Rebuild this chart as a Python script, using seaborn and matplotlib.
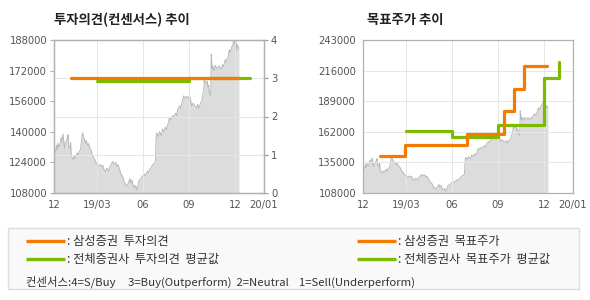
import matplotlib
matplotlib.use("Agg")
import matplotlib.pyplot as plt
import seaborn as sns
import pandas as pd
from matplotlib.patches import Rectangle
from matplotlib.lines import Line2D

sns.set_style("white")
plt.rcParams['font.family'] = ['Noto Sans CJK KR', 'DejaVu Sans']

# ---------------- data ----------------
price_dates = [
    "2018-12-06", "2018-12-07", "2018-12-10", "2018-12-11", "2018-12-12", "2018-12-14", "2018-12-17",
    "2018-12-18", "2018-12-20", "2018-12-21", "2018-12-24", "2018-12-26", "2018-12-27", "2018-12-28",
    "2019-01-02", "2019-01-03", "2019-01-04", "2019-01-07", "2019-01-08", "2019-01-09", "2019-01-10",
    "2019-01-14", "2019-01-15", "2019-01-17", "2019-01-21", "2019-01-23", "2019-01-25", "2019-01-28",
    "2019-01-30", "2019-01-31", "2019-02-01", "2019-02-04", "2019-02-07", "2019-02-08", "2019-02-11",
    "2019-02-13", "2019-02-15", "2019-02-18", "2019-02-20", "2019-02-22", "2019-02-25", "2019-02-27",
    "2019-03-01", "2019-03-05", "2019-03-07", "2019-03-11", "2019-03-13", "2019-03-15", "2019-03-19",
    "2019-03-21", "2019-03-25", "2019-03-27", "2019-03-29", "2019-04-02", "2019-04-04", "2019-04-08",
    "2019-04-10", "2019-04-12", "2019-04-16", "2019-04-18", "2019-04-22", "2019-04-24", "2019-04-26",
    "2019-04-29", "2019-05-02", "2019-05-06", "2019-05-08", "2019-05-10", "2019-05-13", "2019-05-15",
    "2019-05-17", "2019-05-20", "2019-05-22", "2019-05-24", "2019-05-28", "2019-05-31", "2019-06-04",
    "2019-06-06", "2019-06-10", "2019-06-12", "2019-06-14", "2019-06-18", "2019-06-20", "2019-06-24",
    "2019-06-26", "2019-06-27", "2019-06-28", "2019-07-02", "2019-07-04", "2019-07-08", "2019-07-10",
    "2019-07-12", "2019-07-16", "2019-07-18", "2019-07-22", "2019-07-24", "2019-07-26", "2019-07-30",
    "2019-08-01", "2019-08-05", "2019-08-07", "2019-08-09", "2019-08-13", "2019-08-15", "2019-08-19",
    "2019-08-21", "2019-08-23", "2019-08-27", "2019-08-29", "2019-09-02", "2019-09-04", "2019-09-06",
    "2019-09-09", "2019-09-11", "2019-09-16", "2019-09-18", "2019-09-20", "2019-09-24", "2019-09-26",
    "2019-09-27", "2019-09-30", "2019-10-01", "2019-10-04", "2019-10-07", "2019-10-08", "2019-10-10",
    "2019-10-11", "2019-10-14", "2019-10-15", "2019-10-16", "2019-10-17", "2019-10-18", "2019-10-21",
    "2019-10-23", "2019-10-25", "2019-10-28", "2019-10-30", "2019-11-01", "2019-11-04", "2019-11-06",
    "2019-11-08", "2019-11-12", "2019-11-14", "2019-11-18", "2019-11-20", "2019-11-22", "2019-11-25",
    "2019-11-27", "2019-11-29", "2019-12-02", "2019-12-03", "2019-12-05", "2019-12-06", "2019-12-09",
]
price_values = [
    122600, 127500, 131000, 133000, 130500, 134000, 132000,
    133500, 137000, 134500, 138800, 133000, 131500, 134000,
    136600, 138500, 133000, 131500, 134500, 129000, 127000,
    125500, 127500, 126000, 129000, 127500, 129500, 131000,
    136000, 138500, 139500, 136000, 134000, 135500, 133000,
    133800, 131500, 130500, 128000, 127000, 125500, 124000,
    123500, 122000, 123000, 121800, 122500, 120500, 119000,
    121000, 119500, 121500, 122500, 124500, 123000, 124000,
    122000, 122800, 120000, 118000, 116500, 114000, 113500,
    111500, 112500, 115500, 113000, 114800, 111500, 110800,
    112000, 109500, 111800, 114500, 115500, 116800, 118000,
    117000, 119500, 118500, 120000, 121500, 122800, 123500,
    125000, 134000, 139500, 137500, 140000, 138000, 141500,
    140000, 142500, 141000, 145500, 147500, 146000, 148500,
    147500, 149800, 148500, 151500, 153500, 152500, 156500,
    158800, 157800, 158500, 157500, 158800, 156500, 153300,
    155000, 154000, 152500, 154500, 152000, 155000, 155800,
    157800, 161500, 167500, 165500, 166500, 163500, 164500,
    160500, 159000, 180500, 176000, 173000, 174500, 172000,
    174800, 173500, 173000, 174500, 173500, 172800, 175000,
    174000, 177800, 176500, 179500, 183000, 181500, 184500,
    185500, 187800, 185000, 188000, 182500, 185500, 183500,
]

# investment opinion (consensus score)
op_sam_dates = ["2019-01-08", "2019-12-08"]
op_sam_values = [3.0, 3.0]
op_avg_dates = ["2019-03-01", "2019-09-01", "2020-01-01"]
op_avg_values = [2.92, 3.0, 3.0]

# target price
tp_sam_dates = ["2019-01-09", "2019-02-28", "2019-07-01", "2019-09-13", "2019-10-03", "2019-10-23", "2019-12-07"]
tp_sam_values = [141000, 150500, 160000, 180500, 200000, 220000, 220000]
tp_avg_dates = ["2019-03-01", "2019-06-01", "2019-09-01", "2019-12-01", "2020-01-01"]
tp_avg_values = [162300, 157300, 167600, 209500, 223600]

tick_dates = ["2018-12-06", "2019-03-01", "2019-06-01", "2019-09-01", "2019-12-01", "2020-01-28"]
tick_labels = ["12", "19/03", "06", "09", "12", "20/01"]

left_yticks = [108000, 124000, 140000, 156000, 172000, 188000]
op_yticks = [0, 1, 2, 3, 4]
right_yticks = [108000, 135000, 162000, 189000, 216000, 243000]

# ---------------- styling ----------------
ORANGE = "#f47a00"
GREEN = "#7cbb00"
AREA = "#dcdcdc"
AREA_EDGE = "#b8b8b8"
SPINE = "#b0b0b0"
GRID = "#e6e6e6"
TXT = "#555555"

price_df = pd.DataFrame({"date": pd.to_datetime(price_dates), "price": price_values})
tdates = pd.to_datetime(tick_dates)
xmin, xmax = tdates[0], tdates[-1]

W, H = 590, 300
fig = plt.figure(figsize=(W / 100, H / 100), dpi=100)


def px_axes(l, t, r, b):
    return fig.add_axes([l / W, 1 - b / H, (r - l) / W, (b - t) / H])


def style_axes(ax):
    for s in ax.spines.values():
        s.set_color(SPINE)
        s.set_linewidth(0.9)
        s.set_zorder(5)
    ax.tick_params(axis="both", colors=SPINE, labelcolor=TXT, labelsize=7.2, length=3, width=0.8, pad=2)
    for lab in ax.get_xticklabels() + ax.get_yticklabels():
        lab.set_family("DejaVu Sans")


def draw_price(ax, ymin):
    ax.fill_between(price_df["date"], ymin, price_df["price"], color=AREA, lw=0, zorder=1)
    sns.lineplot(data=price_df, x="date", y="price", ax=ax, color=AREA_EDGE, lw=0.7, zorder=1.2)
    ax.set_xlabel("")
    ax.set_ylabel("")


GRID_KW = dict(color=GRID, lw=0.72, zorder=1.5, antialiased=False, snap=True)


def vgrid(ax):
    for d in tdates[1:-1]:
        ax.axvline(d, **GRID_KW)


def hgrid(ax, levels):
    for v in levels:
        ax.axhline(v, **GRID_KW)


# ---------------- left chart ----------------
axL = px_axes(54, 40, 264, 193)
draw_price(axL, left_yticks[0])
vgrid(axL)
axL.set_ylim(left_yticks[0], left_yticks[-1])
axL.set_yticks(left_yticks)
axL.set_yticklabels([str(v) for v in left_yticks])
axL.set_xlim(xmin, xmax)
axL.set_xticks(tdates)
axL.set_xticklabels(tick_labels)

axO = axL.twinx()
hgrid(axO, op_yticks[1:-1])
sns.lineplot(x=pd.to_datetime(op_avg_dates), y=op_avg_values, ax=axO, color=GREEN, lw=2.3,
             drawstyle="steps-post", zorder=3)
sns.lineplot(x=pd.to_datetime(op_sam_dates), y=op_sam_values, ax=axO, color=ORANGE, lw=2.3,
             drawstyle="steps-post", zorder=4)
axO.set_ylim(0, 4)
axO.set_yticks(op_yticks)
axO.set_yticklabels([str(v) for v in op_yticks])
axO.set_xlim(xmin, xmax)
style_axes(axL)
style_axes(axO)
axO.tick_params(axis="y", direction="inout", length=6, colors="#999999", labelcolor=TXT)

fig.text(54 / W, 1 - 20 / H, "투자의견(컨센서스) 추이", fontsize=9.6, fontweight="bold",
         color="#222222", va="center", ha="left")

# ---------------- right chart ----------------
axR = px_axes(363, 40, 573, 193)
draw_price(axR, right_yticks[0])
vgrid(axR)
hgrid(axR, right_yticks[1:-1])
sns.lineplot(x=pd.to_datetime(tp_avg_dates), y=tp_avg_values, ax=axR, color=GREEN, lw=2.3,
             drawstyle="steps-post", zorder=3)
sns.lineplot(x=pd.to_datetime(tp_sam_dates), y=tp_sam_values, ax=axR, color=ORANGE, lw=2.3,
             drawstyle="steps-post", zorder=4)
axR.set_ylim(right_yticks[0], right_yticks[-1])
axR.set_yticks(right_yticks)
axR.set_yticklabels([str(v) for v in right_yticks])
axR.set_xlim(xmin, xmax)
axR.set_xticks(tdates)
axR.set_xticklabels(tick_labels)
axR.set_xlabel("")
axR.set_ylabel("")
style_axes(axR)

fig.text(367 / W, 1 - 20 / H, "목표주가 추이", fontsize=9.6, fontweight="bold",
         color="#222222", va="center", ha="left")

# ---------------- legend box ----------------
fig.patches.append(Rectangle((8 / W, 1 - 289 / H), (579 - 8) / W, (289 - 228) / H,
                             transform=fig.transFigure, facecolor="#f9f9f9",
                             edgecolor="#dddddd", lw=1.0))


def leg_item(x0, x1, y, color, text):
    fig.lines.append(Line2D([x0 / W, x1 / W], [1 - y / H, 1 - y / H], transform=fig.transFigure,
                            color=color, lw=2.4, solid_capstyle="butt"))
    fig.text((x1 + 2) / W, 1 - y / H, text, fontsize=8.8, color="#333333", va="center", ha="left")


leg_item(26, 65, 241, ORANGE, ": 삼성증권  투자의견")
leg_item(26, 65, 259, GREEN, ": 전체증권사  투자의견  평균값")
leg_item(357, 396, 241, ORANGE, ": 삼성증권  목표주가")
leg_item(357, 396, 259, GREEN, ": 전체증권사  목표주가  평균값")
fig.text(26 / W, 1 - 282 / H,
         "컨센서스:4=S/Buy     3=Buy(Outperform)  2=Neutral    1=Sell(Underperform)",
         fontsize=8.2, color="#333333", va="center", ha="left")

fig.savefig("out.png", dpi=100)
